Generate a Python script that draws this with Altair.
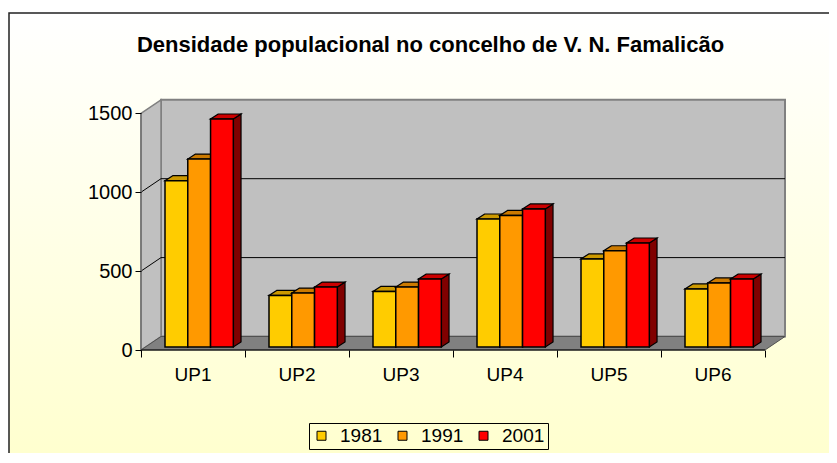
import altair as alt
import pandas as pd

# ---------------- data ----------------
categories = ["UP1", "UP2", "UP3", "UP4", "UP5", "UP6"]
years = ["1981", "1991", "2001"]
v1981 = [1054, 327, 352, 811, 558, 368]
v1991 = [1191, 342, 380, 834, 610, 406]
v2001 = [1445, 380, 431, 875, 659, 431]
y_ticks = [0, 500, 1000, 1500]
title_text = "Densidade populacional no concelho de V. N. Famalicão"

front_colors = ["#FFCC00", "#FF9900", "#FF0000"]
top_colors = ["#CC9900", "#CC7A00", "#CC0000"]
side_colors = ["#997300", "#995C00", "#800000"]

FONT = "Liberation Sans"

# ---------------- pseudo-3D geometry (data units) ----------------
W_PX, H_PX = 644, 251
PX_PER_CAT = 104.0
PX_PER_VAL = 0.1578
X_MAX = W_PX / PX_PER_CAT
Y_MAX = H_PX / PX_PER_VAL
DX = 20 / PX_PER_CAT          # wall depth (x)
DY = 13.5 / PX_PER_VAL        # wall depth (y)
BX0 = 0.2308                  # first bar offset in a category
BW = 0.219                    # bar width
BY = 3 / PX_PER_VAL           # bar base (depth position)
BDX = 7.7 / PX_PER_CAT        # bar depth (x)
BDY = 5 / PX_PER_VAL          # bar depth (y)
NCAT = len(categories)

series = {"1981": v1981, "1991": v1991, "2001": v2001}
fronts, tops, sides = [], [], []
for i, cat in enumerate(categories):
    for j, yr in enumerate(years):
        v = series[yr][i]
        l = i + BX0 + j * BW
        r = l + BW
        bid = f"{cat}-{yr}"
        fronts.append(dict(id=bid, year=yr, cat=cat, value=v, x=l, x2=r, y=BY, y2=BY + v))
        tops.append(dict(id=bid, year=yr, k=0, y=BY + v, x=l, x2=r))
        tops.append(dict(id=bid, year=yr, k=1, y=BY + v + BDY, x=l + BDX, x2=r + BDX))
        sides.append(dict(id=bid, year=yr, k=0, x=r, y=BY + v, y2=BY))
        sides.append(dict(id=bid, year=yr, k=1, x=r + BDX, y=BY + v + BDY, y2=BY + BDY))

df_front = pd.DataFrame(fronts)
df_top = pd.DataFrame(tops)
df_side = pd.DataFrame(sides)
df_cat = pd.DataFrame({"cat": categories, "pos": [i + 0.5 for i in range(NCAT)]})

xs = alt.Scale(domain=[0, X_MAX], nice=False, zero=False)
ys = alt.Scale(domain=[0, Y_MAX], nice=False, zero=False)
AX = alt.Axis(values=list(range(NCAT + 1)), labels=False, tickSize=7, tickColor="black",
              tickWidth=1, domain=False, grid=False, title=None, zindex=3)
AY = alt.Axis(values=y_ticks, format="d", tickSize=6, tickColor="black", tickWidth=1,
              labelFontSize=20, labelFont=FONT, labelColor="black", labelPadding=3,
              domain=False, grid=False, title=None, zindex=3)


def X(f):
    return alt.X(f, scale=xs, axis=AX, stack=None)


def Y(f):
    return alt.Y(f, scale=ys, axis=AY, stack=None)


one = pd.DataFrame({"a": [0]})

# background with gradient + frame
background = alt.Chart(one).mark_rect(
    fill=alt.Gradient(
        gradient="linear",
        stops=[alt.GradientStop(color="#FFFFFF", offset=0),
               alt.GradientStop(color="#FFFFCC", offset=1)],
        x1=0, x2=0, y1=0, y2=1),
    stroke="#222222", strokeWidth=1.5,
).encode(x=alt.value(-132), x2=alt.value(700), y=alt.value(-86), y2=alt.value(380))

# back wall
df_back = pd.DataFrame({"x": [DX], "x2": [NCAT + DX], "y": [DY], "y2": [1500 + DY]})
back_wall = alt.Chart(df_back).mark_rect(fill="#C0C0C0", stroke="#808080", strokeWidth=2).encode(
    x=X("x:Q"), x2="x2:Q", y=Y("y:Q"), y2="y2:Q")

# left wall
df_left = pd.DataFrame({"k": [0, 1], "x": [0, DX], "y": [1500, 1500 + DY], "y2": [0, DY]})
left_wall = alt.Chart(df_left).mark_area(filled=True, fill="#C0C0C0", fillOpacity=1,
                                         stroke="#808080", strokeWidth=1.5).encode(
    x=X("x:Q"), y=Y("y:Q"), y2="y2:Q")

# floor
df_floor = pd.DataFrame({"k": [0, 1], "y": [0, DY], "x": [0, DX], "x2": [NCAT, NCAT + DX]})
floor = alt.Chart(df_floor).mark_area(orient="horizontal", filled=True, fill="#808080",
                                      fillOpacity=1, stroke="#505050", strokeWidth=1).encode(
    y=Y("y:Q"), x=X("x:Q"), x2="x2:Q")

# gridlines on back wall and diagonals on left wall
grid_vals = [v for v in y_ticks if 0 < v < 1500]
df_grid = pd.DataFrame({"x": [DX] * len(grid_vals), "x2": [NCAT + DX] * len(grid_vals),
                        "y": [v + DY for v in grid_vals]})
grid = alt.Chart(df_grid).mark_rule(color="black", strokeWidth=1).encode(
    x=X("x:Q"), x2="x2:Q", y=Y("y:Q"))
df_diag = pd.DataFrame({"x": [0] * len(grid_vals), "x2": [DX] * len(grid_vals),
                        "y": grid_vals, "y2": [v + DY for v in grid_vals]})
diag = alt.Chart(df_diag).mark_rule(color="black", strokeWidth=1).encode(
    x=X("x:Q"), x2="x2:Q", y=Y("y:Q"), y2="y2:Q")

# front edge of the left wall
df_fedge = pd.DataFrame({"x": [0], "y": [0], "y2": [1500]})
fedge = alt.Chart(df_fedge).mark_rule(color="#707070", strokeWidth=1.5).encode(
    x=X("x:Q"), y=Y("y:Q"), y2="y2:Q")

# front floor edge
df_edge = pd.DataFrame({"x": [0], "x2": [NCAT], "y": [0]})
edge = alt.Chart(df_edge).mark_rule(color="black", strokeWidth=1.2).encode(
    x=X("x:Q"), x2="x2:Q", y=Y("y:Q"))

# bars
side_layer = alt.Chart(df_side).mark_area(filled=True, fillOpacity=1, opacity=1,
                                          stroke="black", strokeWidth=1.2).encode(
    x=X("x:Q"), y=Y("y:Q"), y2="y2:Q", detail="id:N",
    fill=alt.Fill("year:N", scale=alt.Scale(domain=years, range=side_colors), legend=None))

top_layer = alt.Chart(df_top).mark_area(orient="horizontal", filled=True, fillOpacity=1,
                                        opacity=1, stroke="black", strokeWidth=1.2).encode(
    y=Y("y:Q"), x=X("x:Q"), x2="x2:Q", detail="id:N",
    color=alt.Color("year:N", scale=alt.Scale(domain=years, range=top_colors), legend=None))

front_layer = alt.Chart(df_front).mark_rect(stroke="black", strokeWidth=1.5).encode(
    x=X("x:Q"), x2="x2:Q", y=Y("y:Q"), y2="y2:Q",
    color=alt.Color("year:N", scale=alt.Scale(domain=years, range=front_colors),
                    legend=alt.Legend(orient="none", legendX=168, legendY=324,
                                      direction="horizontal", title=None,
                                      symbolType="square", symbolSize=81,
                                      symbolStrokeColor="black", symbolStrokeWidth=1,
                                      labelFontSize=19, labelFont=FONT, labelColor="black",
                                      labelOffset=9, columnPadding=10, padding=3,
                                      strokeColor="black")))

# category labels
cat_labels = alt.Chart(df_cat).mark_text(fontSize=19, font=FONT, color="black",
                                         baseline="middle", align="center").encode(
    x=X("pos:Q"), y=alt.value(276), text="cat:N")

# title
title = alt.Chart(one).mark_text(text=title_text, fontSize=22, font=FONT, fontWeight="bold",
                                 color="black", align="center", baseline="alphabetic").encode(
    x=alt.value(289.5), y=alt.value(-47.5))

chart = alt.layer(
    background, back_wall, left_wall, floor, grid, diag, fedge, edge,
    side_layer, top_layer, front_layer, cat_labels, title
).resolve_scale(color="independent", fill="independent").properties(
    width=W_PX, height=H_PX,
    autosize=alt.AutoSizeParams(type="none"),
    padding={"left": 133, "top": 91, "right": 44, "bottom": 103},
).configure_view(stroke=None, fill=None).configure(font=FONT)

chart.save("out.html", embed_options={"renderer": "svg", "actions": False})
